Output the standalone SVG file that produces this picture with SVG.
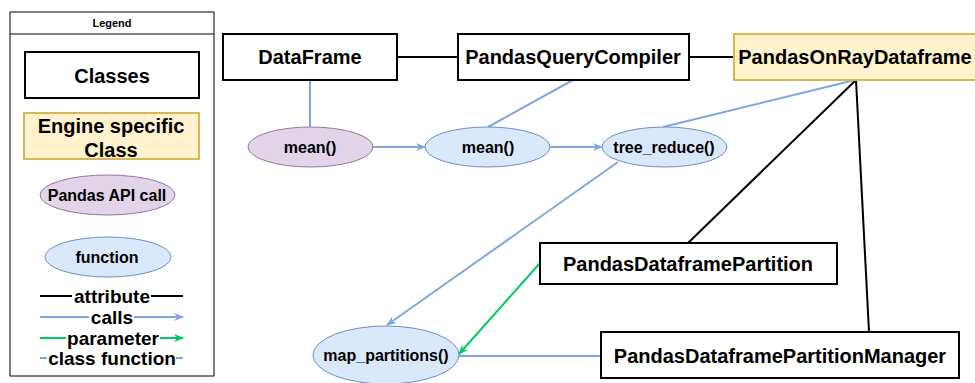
<svg xmlns="http://www.w3.org/2000/svg" width="975" height="383" viewBox="0 0 975 383">
<defs>
<style>
text{font-family:"Liberation Sans",Arial,sans-serif;font-weight:bold;fill:#000;text-anchor:middle}
.cls{fill:#fff;stroke:#000;stroke-width:2}
.eng{fill:#fff2cc;stroke:#d6b656;stroke-width:2}
.api{fill:#e1d5e7;stroke:#9673a6;stroke-width:1}
.fn{fill:#dae8fc;stroke:#6c8ebf;stroke-width:1}
.attr{stroke:#000;stroke-width:2;fill:none}
.call{stroke:#7ea6e0;stroke-width:2;fill:none}
.param{stroke:#00cc66;stroke-width:2;fill:none}
.t20{font-size:20px}
.t16{font-size:16px}
.t19{font-size:19px}
</style>
<marker id="ab" viewBox="0 0 10 8" refX="9" refY="4" markerWidth="10" markerHeight="8" markerUnits="userSpaceOnUse" orient="auto">
<path d="M0,0 L10,4 L0,8 L3,4 z" fill="#7ea6e0"/>
</marker>
<marker id="ag" viewBox="0 0 10 8" refX="9" refY="4" markerWidth="10" markerHeight="8" markerUnits="userSpaceOnUse" orient="auto">
<path d="M0,0 L10,4 L0,8 L3,4 z" fill="#00cc66"/>
</marker>
</defs>
<rect width="975" height="383" fill="#fff"/>

<g id="legend">
<rect x="10" y="12" width="204" height="364" fill="#fff" stroke="#000" stroke-width="1"/>
<line x1="10" y1="34" x2="214" y2="34" stroke="#000" stroke-width="1"/>
<text x="112" y="27" style="font-size:11px">Legend</text>
<rect class="cls" x="25" y="52" width="174" height="46"/>
<text class="t20" x="112" y="83">Classes</text>
<rect class="eng" x="24" y="113" width="175" height="46"/>
<text class="t20" x="111" y="133">Engine specific</text>
<text class="t20" x="111" y="157">Class</text>
<ellipse class="api" cx="107.5" cy="195" rx="67.5" ry="20"/>
<text class="t16" x="107" y="201">Pandas API call</text>
<ellipse class="fn" cx="108" cy="257" rx="63" ry="20"/>
<text class="t16" x="107" y="263">function</text>
<path class="attr" d="M40,296 H72 M151,296 H183"/>
<text class="t19" x="112" y="303">attribute</text>
<path class="call" d="M40,317 H89"/>
<path class="call" d="M134,317 H183" marker-end="url(#ab)"/>
<text class="t19" x="112" y="324">calls</text>
<path class="param" d="M40,338 H66"/>
<path class="param" d="M160,338 H183" marker-end="url(#ag)"/>
<text class="t19" x="113" y="345">parameter</text>
<path class="call" d="M40,358 H47 M176,358 H183"/>
<text class="t19" x="112" y="365">class function</text>
</g>

<g id="connectors">
<line class="attr" x1="397" y1="57" x2="458" y2="57"/>
<line class="attr" x1="689" y1="57" x2="734" y2="57"/>
<line class="attr" x1="856" y1="80" x2="688" y2="243"/>
<line class="attr" x1="856" y1="80" x2="869" y2="332"/>
<line class="call" x1="310" y1="80" x2="310" y2="127"/>
<line class="call" x1="573" y1="80" x2="488" y2="127"/>
<line class="call" x1="855" y1="80" x2="663" y2="127"/>
<line class="call" x1="373" y1="147" x2="425" y2="147" marker-end="url(#ab)"/>
<line class="call" x1="550" y1="147" x2="602" y2="147" marker-end="url(#ab)"/>
<line class="call" x1="618" y1="162" x2="387" y2="325" marker-end="url(#ab)"/>
<line class="param" x1="540" y1="263" x2="459" y2="354" marker-end="url(#ag)"/>
<line class="call" x1="601" y1="356" x2="459" y2="356"/>
</g>

<g id="DataFrame">
<rect class="cls" x="223" y="34" width="174" height="46"/>
<text class="t20" x="310" y="64">DataFrame</text>
</g>
<g id="PandasQueryCompiler">
<rect class="cls" x="458" y="34" width="231" height="46"/>
<text class="t20" x="573" y="64">PandasQueryCompiler</text>
</g>
<g id="PandasOnRayDataframe">
<rect class="eng" x="734" y="34" width="246" height="46"/>
<text class="t20" x="855" y="64">PandasOnRayDataframe</text>
</g>
<g id="mean_api">
<ellipse class="api" cx="310.5" cy="147" rx="62.5" ry="20"/>
<text class="t16" x="310" y="153">mean()</text>
</g>
<g id="mean_fn">
<ellipse class="fn" cx="487.5" cy="147" rx="62.5" ry="20"/>
<text class="t16" x="488" y="153">mean()</text>
</g>
<g id="tree_reduce">
<ellipse class="fn" cx="664.5" cy="147" rx="62.5" ry="20"/>
<text class="t16" x="664" y="153">tree_reduce()</text>
</g>
<g id="PandasDataframePartition">
<rect class="cls" x="540" y="243" width="297" height="41"/>
<text class="t20" x="688" y="271">PandasDataframePartition</text>
</g>
<g id="PandasDataframePartitionManager">
<rect class="cls" x="601" y="332" width="358" height="46"/>
<text class="t20" x="780" y="363">PandasDataframePartitionManager</text>
</g>
<g id="map_partitions">
<ellipse class="fn" cx="386" cy="355" rx="73" ry="29"/>
<text class="t16" x="386" y="361">map_partitions()</text>
</g>
</svg>
